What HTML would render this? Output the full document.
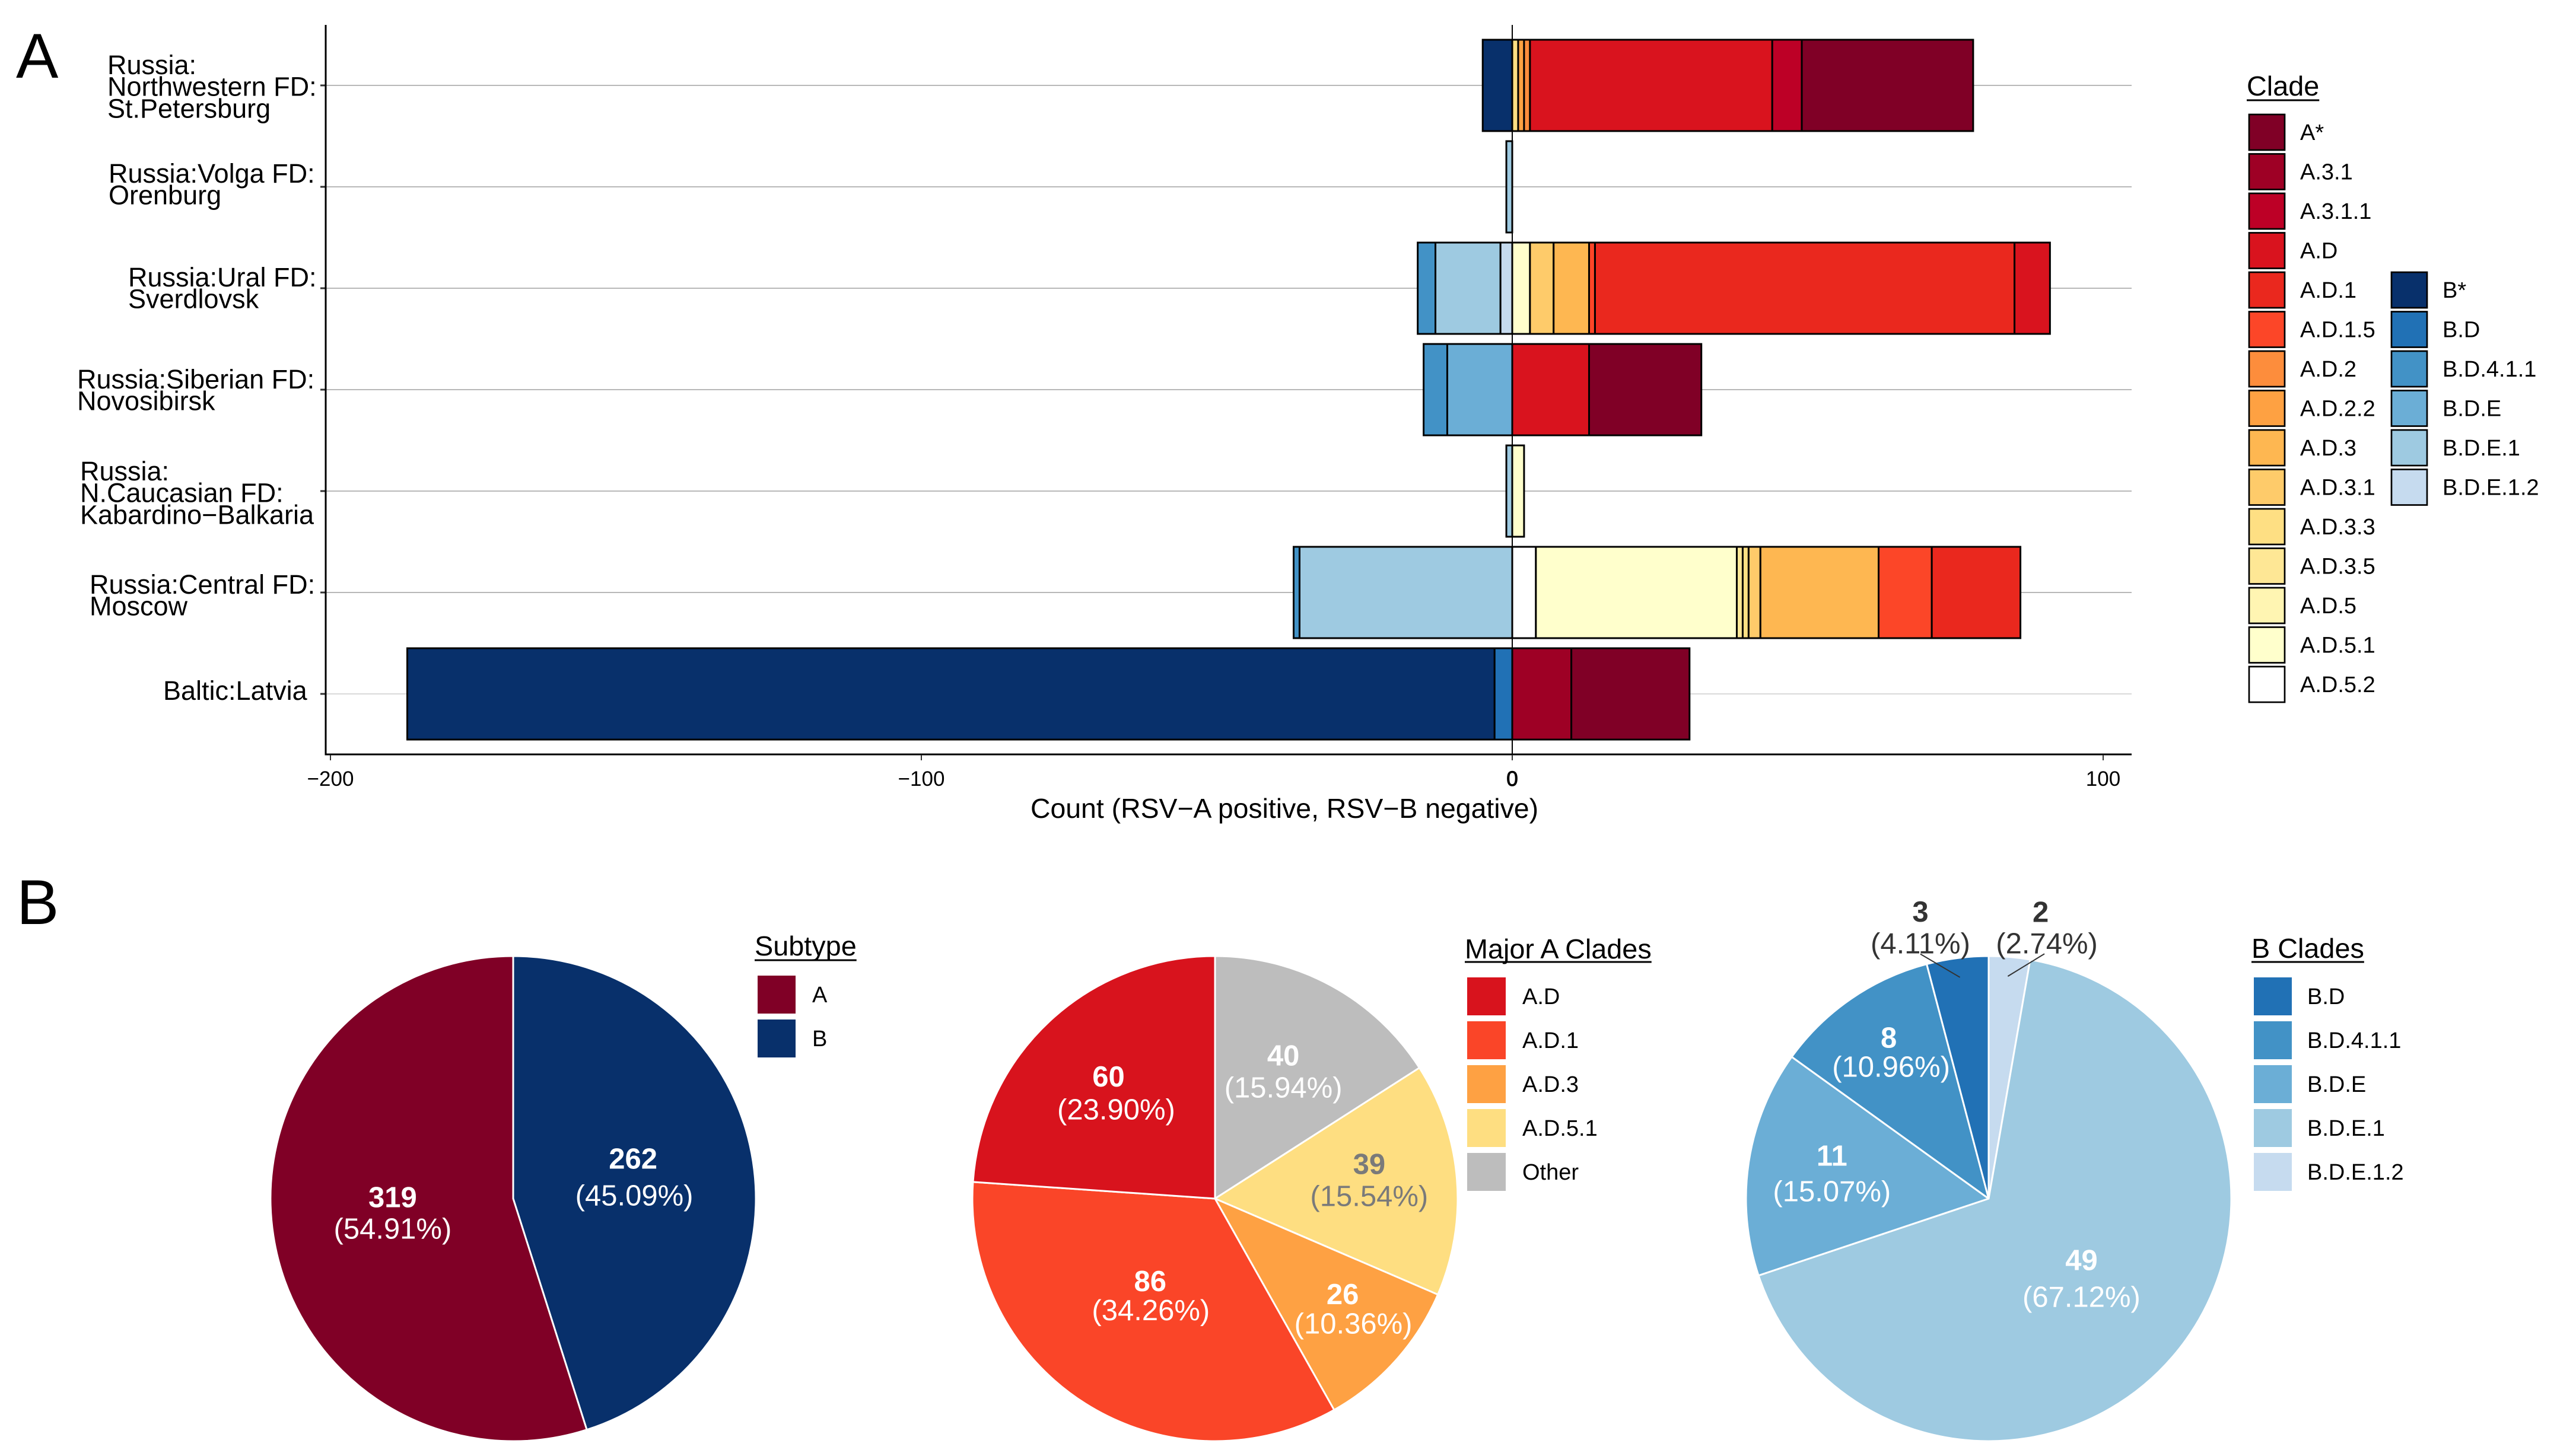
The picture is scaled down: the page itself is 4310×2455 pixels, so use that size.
<!DOCTYPE html>
<html lang="en">
<head>
<meta charset="utf-8">
<title>RSV clade distribution by region</title>
<style>
html,body{margin:0;padding:0;background:#fff;}
svg{display:block;}
text{font-family:"Liberation Sans",Arial,sans-serif;}
</style>
</head>
<body>
<svg id="figure" xmlns="http://www.w3.org/2000/svg" width="4310" height="2455" viewBox="0 0 4310 2455">
  <rect x="0" y="0" width="4310" height="2455" fill="#ffffff"/>
  <text x="27" y="131" font-size="107" fill="#000">A</text>
  <text x="28" y="1558" font-size="107" fill="#000">B</text>
  <text x="2165" y="1379" font-size="46.4" text-anchor="middle" fill="#000">Count (RSV−A positive, RSV−B negative)</text>
</svg>
<script>
/* ---------- Panel A data ---------- */
const regionLines = [
  ['Russia:', 'Northwestern FD:', 'St.Petersburg'],
  ['Russia:Volga FD:', 'Orenburg'],
  ['Russia:Ural FD:', 'Sverdlovsk'],
  ['Russia:Siberian FD:', 'Novosibirsk'],
  ['Russia:', 'N.Caucasian FD:', 'Kabardino−Balkaria'],
  ['Russia:Central FD:', 'Moscow'],
  ['Baltic:Latvia']
];
const clades = ['A*','A.3.1','A.3.1.1','A.D','A.D.1','A.D.1.5','A.D.2','A.D.2.2','A.D.3','A.D.3.1','A.D.3.3','A.D.3.5','A.D.5','A.D.5.1','A.D.5.2','B*','B.D','B.D.4.1.1','B.D.E','B.D.E.1','B.D.E.1.2'];
/* signed counts per clade, same order as clades: RSV-A positive, RSV-B negative */
const countsStPetersburg = [29,0,5,41,0,0,1,1,0,0,1,0,0,0,0,-5,0,0,0,0,0];
const countsOrenburg     = [0,0,0,0,0,0,0,0,0,0,0,0,0,0,0,0,0,0,0,-1,0];
const countsSverdlovsk   = [0,0,0,6,71,1,0,0,6,4,0,0,0,3,0,0,0,-3,0,-11,-2];
const countsNovosibirsk  = [19,0,0,13,0,0,0,0,0,0,0,0,0,0,0,0,0,-4,-11,0,0];
const countsKabardino    = [0,0,0,0,0,0,0,0,0,0,0,0,0,2,0,0,0,0,0,-1,0];
const countsMoscow       = [0,0,0,0,15,9,0,0,20,2,1,1,0,34,4,0,0,-1,0,-36,0];
const countsLatvia       = [20,10,0,0,0,0,0,0,0,0,0,0,0,0,0,-184,-3,0,0,0,0];
const regionCounts = [countsStPetersburg,countsOrenburg,countsSverdlovsk,countsNovosibirsk,countsKabardino,countsMoscow,countsLatvia];
const xTickValues = [-200,-100,0,100];

/* ---------- Panel B data ---------- */
const subtypeNames = ['B','A'];
const subtypeCounts = [262,319];
const majorCladeNames = ['Other','A.D.5.1','A.D.3','A.D.1','A.D'];
const majorCladeCounts = [40,39,26,86,60];
const bCladeNames = ['B.D.E.1.2','B.D.E.1','B.D.E','B.D.4.1.1','B.D'];
const bCladeCounts = [2,49,11,8,3];

/* ---------- Styles and layout ---------- */
const cladeColors = ['#800026','#9e0025','#bd0026','#d9131e','#ea281e','#fc4628','#fd8d3c','#fea142','#feb751','#fecb6a','#fedf83','#fee795','#fff5b2','#ffffcc','#ffffff','#08306b','#2171b5','#4292c6','#6baed6','#9ecae1','#c6dbef'];
const subtypeColors = ['#08306b','#800026'];
const majorColors = ['#bdbdbd','#fede81','#fea143','#fa4528','#d8131d'];
const bColors = ['#c6dbef','#9ecae1','#6baed6','#4292c6','#2171b5'];
const labelLeft = [181,183,216,130,135,151,275];
const labelFirstBaselineDy = [-19,-7,-3,-2,-18,2,10];

const NS = 'http://www.w3.org/2000/svg';
const svg = document.getElementById('figure');
function add(tag, attrs, text) {
  const node = document.createElementNS(NS, tag);
  for (const k in attrs) node.setAttribute(k, attrs[k]);
  if (text !== undefined) node.textContent = text;
  svg.appendChild(node);
  return node;
}
function slug(s) {
  return String(s).toLowerCase().replace(/\*/g, '-star').replace(/[^a-z0-9]+/g, '-').replace(/^-|-$/g, '');
}

/* ---------- Panel A axes ---------- */
const xZero = 2549, xUnit = 9.96, yFirst = 144, yStep = 171, barHeight = 154;
const plotLeft = 549, plotRight = 3593, plotTop = 42, plotBottom = 1273;
const xScale = function (v) { return xZero + v * xUnit; };
const yScale = function (i) { return yFirst + i * yStep; };

regionLines.forEach(function (lines, i) {
  const grid = add('line', {x1: plotLeft, x2: plotRight, y1: yScale(i), y2: yScale(i), stroke: i === 6 ? '#d9d9d9' : '#b8b8b8', 'stroke-width': 2});
  
  

  const tick = add('line', {x1: plotLeft - 9, x2: plotLeft, y1: yScale(i), y2: yScale(i), stroke: '#333', 'stroke-width': 3});
  
  

  lines.forEach(function (line, j) {
    const label = add('text', {x: labelLeft[i], y: yScale(i) + labelFirstBaselineDy[i] + j * 36.7, 'font-size': 45, fill: '#000'}, line);
    
    
  });
});

/* ---------- Panel A stacked bars ---------- */
regionCounts.forEach(function (counts, i) {
  let positive = 0, negative = 0;
  for (let c = clades.length - 1; c >= 0; c--) {
    const v = counts[c];
    if (!v) continue;
    const start = v > 0 ? positive : negative;
    const end = start + v;
    if (v > 0) positive = end; else negative = end;
    const x0 = xScale(Math.min(start, end));
    const x1 = xScale(Math.max(start, end));
    const segment = add('rect', {x: x0, y: yScale(i) - barHeight / 2, width: x1 - x0, height: barHeight, fill: cladeColors[c], stroke: '#000', 'stroke-width': 3});
    
    
  }
});

const zeroLine = add('line', {x1: xZero, x2: xZero, y1: plotTop, y2: plotBottom, stroke: '#000', 'stroke-width': 2});



const yAxis = add('line', {x1: plotLeft, x2: plotLeft, y1: plotTop, y2: plotBottom, stroke: '#000', 'stroke-width': 3});



const xAxis = add('line', {x1: plotLeft - 1.5, x2: plotRight, y1: plotBottom - 1, y2: plotBottom - 1, stroke: '#000', 'stroke-width': 3});



xTickValues.forEach(function (v) {
  const tick = add('line', {x1: xScale(v), x2: xScale(v), y1: plotBottom, y2: plotBottom + 9, stroke: '#333', 'stroke-width': 2});
  
  

  const tickLabel = add('text', {x: xScale(v), y: 1325, 'font-size': 35, 'text-anchor': 'middle', fill: '#000'}, String(v).replace('-', '−'));
  if (v === 0) {
    tickLabel.setAttribute('stroke', '#000');
    tickLabel.setAttribute('stroke-width', '1');
  }
  
  
});

/* ---------- Legends ---------- */
function legendTitle(text, x, baseline, underlineY) {
  const title = add('text', {x: x, y: baseline, 'font-size': 46.8, fill: '#000'}, text);
  
  
  const rule = add('line', {x1: x, x2: x + title.getComputedTextLength(), y1: underlineY, y2: underlineY, stroke: '#000', 'stroke-width': 3});
  
  
}
function legendRows(names, colors, opts) {
  names.forEach(function (name, i) {
    const swatch = add('rect', {x: opts.x, y: opts.y + i * opts.pitch, width: opts.w, height: opts.h, fill: colors[i]});
    if (opts.outline) {
      swatch.setAttribute('stroke', '#000');
      swatch.setAttribute('stroke-width', '2.7');
    }
    
    

    const label = add('text', {x: opts.textX, y: opts.y + i * opts.pitch + opts.baselineDy, 'font-size': 38, fill: '#000'}, name);
    
    
  });
}
legendTitle('Clade', 3787, 161, 169);
legendRows(clades.slice(0, 15), cladeColors.slice(0, 15), {x: 3791, y: 193, w: 60, h: 60, pitch: 66.5, textX: 3877, baselineDy: 43, outline: true});
legendRows(clades.slice(15), cladeColors.slice(15), {x: 4031, y: 459, w: 60, h: 60, pitch: 66.5, textX: 4117, baselineDy: 43, outline: true});

legendTitle('Subtype', 1272, 1611, 1619);
legendRows(subtypeNames.slice().reverse(), subtypeColors.slice().reverse(), {x: 1277, y: 1645, w: 64, h: 64, pitch: 74, textX: 1369, baselineDy: 45});

legendTitle('Major A Clades', 2469, 1616, 1622);
legendRows(majorCladeNames.slice().reverse(), majorColors.slice().reverse(), {x: 2473, y: 1648, w: 65, h: 64, pitch: 74, textX: 2566, baselineDy: 45});

legendTitle('B Clades', 3795, 1615, 1622);
legendRows(bCladeNames.slice().reverse(), bColors.slice().reverse(), {x: 3799, y: 1648, w: 64, h: 64, pitch: 74, textX: 3889, baselineDy: 45});

/* ---------- Pies ---------- */
const pieRadius = 409, pieCy = 2021;
const subtypeLabelNudges = [[0,-19,2,43],[-1,-17,-1,36]];
const majorLabelNudges = [[17,-45,17,9],[56,-25,56,29],[63,41.5,81,91],[0,-17,1,32],[-40,-39.5,-27,16]];
const bLabelNudges = [[70,-263,80.5,-210],[1.4,-13,1.4,49],[-62,-25,-62,35],[-52.5,-86,-48.5,-37],[-88.7,-264,-88.7,-210.6]];
const bLabelColors = ['#333333','#ffffff','#ffffff','#ffffff','#333333'];
const majorLabelColors = ['#ffffff','#7a7a7a','#ffffff','#ffffff','#ffffff'];
const subtypeLabelColors = ['#ffffff','#ffffff'];

function polar(cx, r, angle) {
  return [cx + r * Math.sin(angle), pieCy - r * Math.cos(angle)];
}
function drawPie(pieName, names, counts, colors, cx, nudges, textColors, connectorFlags) {
  const total = counts.reduce(function (a, b) { return a + b; }, 0);
  let running = 0;
  const mids = [];
  counts.forEach(function (count, i) {
    const a0 = running / total * 2 * Math.PI;
    running += count;
    const a1 = running / total * 2 * Math.PI;
    mids.push((a0 + a1) / 2);
    const p0 = polar(cx, pieRadius, a0);
    const p1 = polar(cx, pieRadius, a1);
    const large = a1 - a0 > Math.PI ? 1 : 0;
    const slice = add('path', {d: 'M' + cx + ' ' + pieCy + 'L' + p0[0] + ' ' + p0[1] + 'A' + pieRadius + ' ' + pieRadius + ' 0 ' + large + ' 1 ' + p1[0] + ' ' + p1[1] + 'Z', fill: colors[i], stroke: '#ffffff', 'stroke-width': 3, 'stroke-linejoin': 'round'});
    
    
  });
  counts.forEach(function (count, i) {
    const anchor = polar(cx, pieRadius * 0.5, mids[i]);
    const n = nudges[i];
    const pct = (count / total * 100).toFixed(2);
    const countLabel = add('text', {x: anchor[0] + n[0], y: anchor[1] + n[1], 'font-size': 49, 'font-weight': 'bold', 'text-anchor': 'middle', fill: textColors[i]}, String(count));
    
    

    const pctLabel = add('text', {x: anchor[0] + n[2], y: anchor[1] + n[3], 'font-size': 49, 'text-anchor': 'middle', fill: textColors[i]}, '(' + pct + '%)');
    
    

    if (connectorFlags && connectorFlags[i]) {
      const inner = polar(cx, pieRadius * 0.92, mids[i]);
      const connector = add('line', {x1: anchor[0] + n[2] - (n[2] > 0 ? 4 : 0), y1: anchor[1] + n[3] + 1, x2: inner[0], y2: inner[1], stroke: '#333', 'stroke-width': 2});
      
      
    }
  });
}
drawPie('subtype-pie', subtypeNames, subtypeCounts, subtypeColors, 865, subtypeLabelNudges, subtypeLabelColors);
drawPie('major-a-pie', majorCladeNames, majorCladeCounts, majorColors, 2048, majorLabelNudges, majorLabelColors);
drawPie('b-clades-pie', bCladeNames, bCladeCounts, bColors, 3352, bLabelNudges, bLabelColors, [true,false,false,false,true]);
</script>
</body>
</html>
